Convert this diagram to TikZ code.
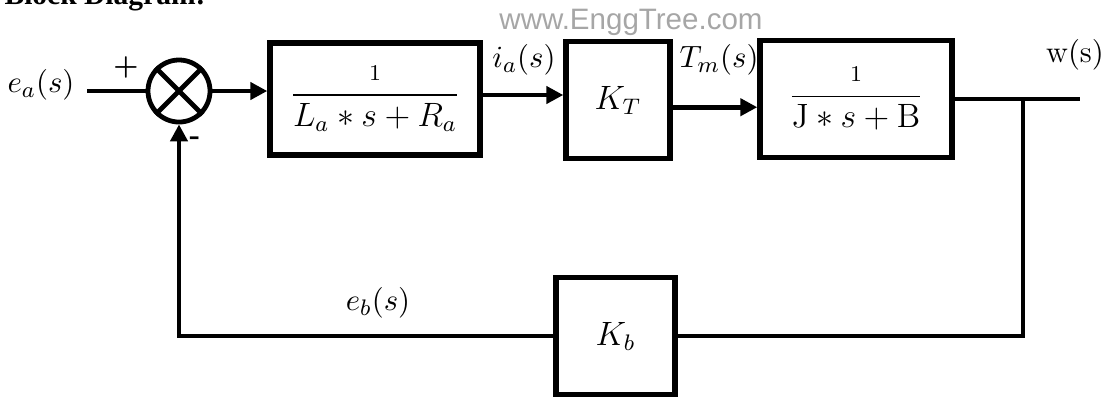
\documentclass[tikz,border=0pt]{standalone}
\usepackage{amsmath}
\usepackage{fontspec}
\newfontfamily\markfont{Liberation Sans}
\newfontfamily\headfont{Liberation Serif}
\usetikzlibrary{arrows.meta,calc}

\tikzset{
  wire/.style={line width=1.7pt},
  block/.style={draw, line width=1.9pt, inner sep=0pt, font=\large},
  sigarrow/.style={-{Triangle[length=6pt,width=6pt]}},
  siglabel/.style={font=\fontsize{11}{13}\selectfont},
}

\begin{document}
\begin{tikzpicture}[x=0.0125cm, y=-0.0125cm]
    \useasboundingbox (0,0) rectangle (1102,396);

    % Define the points of the loop
    \coordinate (IN) at (87,91);
    \coordinate (BR) at (1023,99);
    \coordinate (OUT) at (1080,99);
    \coordinate (BRD) at (1023,336);
    \coordinate (BL) at (179,336);

    % Place the blocks
    \node [draw, circle, line width=1.7pt, minimum size=0.775cm, inner sep=0pt] (sum) at (179,91) {};
    \draw [wire] (sum.north west) -- (sum.south east);
    \draw [wire] (sum.north east) -- (sum.south west);
    \node [block, minimum width=2.625cm, minimum height=1.4cm] (G1) at (375,99) {$\dfrac{\scriptstyle 1}{L_a \ast s + R_a}$};
    \node [block, minimum width=1.3cm, minimum height=1.46cm] (KT) at (618,100) {$K_T$};
    \node [block, minimum width=2.4cm, minimum height=1.46cm] (G2) at (856,99) {$\dfrac{\scriptstyle 1}{\mathrm{J} \ast s + \mathrm{B}}$};
    \node [block, minimum width=1.49cm, minimum height=1.46cm] (KB) at (615.5,336) {$K_b$};

    % Draw the forward path
    \draw [wire] (IN) -- (sum.west);
    \draw [wire, sigarrow] (sum.east) -- (sum.east -| G1.west);
    \draw [wire, sigarrow] ([yshift=0.05cm]G1.east) -- ([yshift=0.05cm]G1.east -| KT.west);
    \draw [wire, sigarrow] ([yshift=-0.09cm]KT.east) -- ([yshift=-0.09cm]KT.east -| G2.west);
    \draw [wire] (G2.east) -- (OUT);

    % Draw the feedback path
    \draw [wire] (BR) -- (BRD) -- (KB.east);
    \draw [wire, sigarrow] (KB.west) -- (BL) -- (sum.south);

    % Place the labels
    \node at (41,85) [siglabel] {$e_a(s)$};
    \node at (126,67) [font=\bfseries] {+};
    \node at (195,141) [font=\bfseries] {-};
    \node at (524,60) [siglabel] {$i_a(s)$};
    \node at (719,60) [siglabel] {$T_m(s)$};
    \node at (1075,55) [siglabel] {$\mathrm{w}(\mathrm{s})$};
    \node at (378,303) [siglabel] {$e_b(s)$};

    % Heading and watermark
    \node at (4,4) [anchor=base west, inner sep=0pt, font=\headfont\bfseries\fontsize{10.5}{12}\selectfont] {Block Diagram:};
    \node at (631,22) [text=black!35, font=\markfont\fontsize{10.5}{12}\selectfont] {www.EnggTree.com};

\end{tikzpicture}
\end{document}
